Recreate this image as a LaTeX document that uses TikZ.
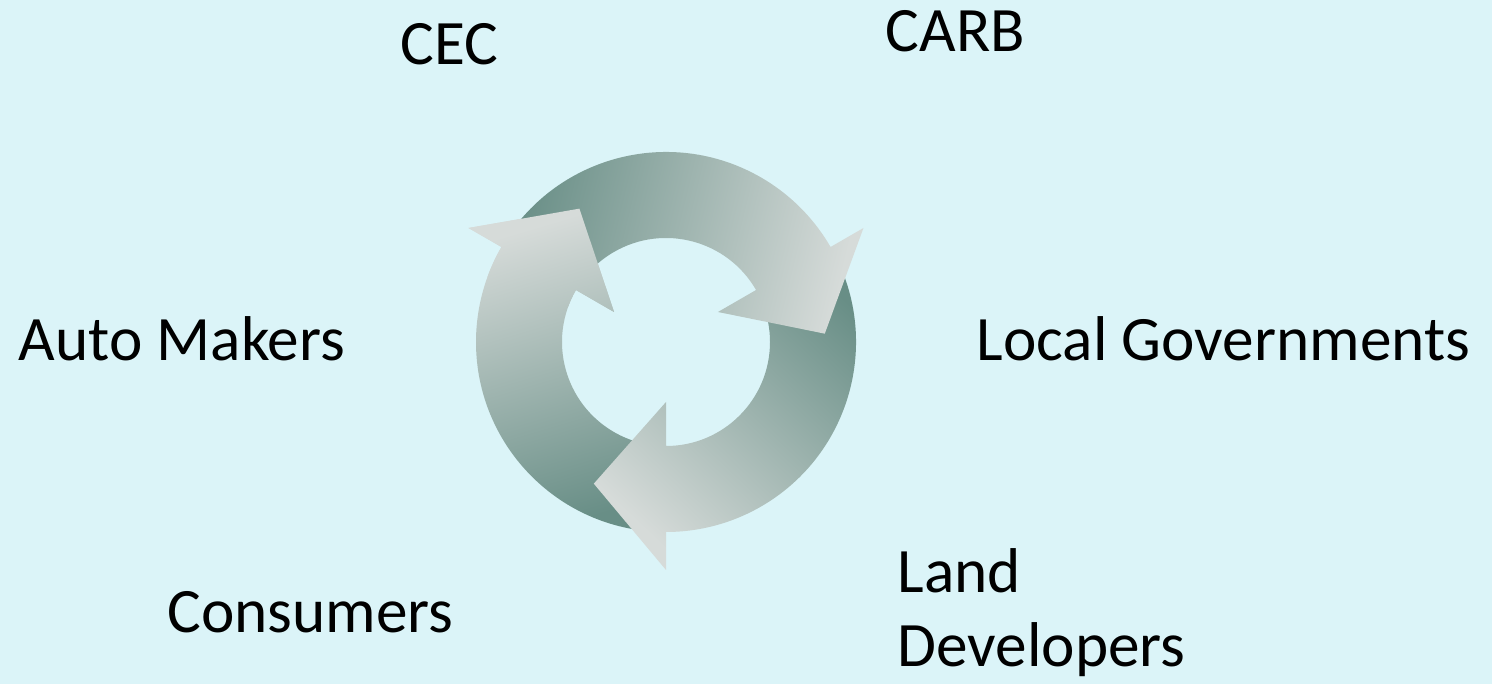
\documentclass[tikz,border=0pt]{standalone}
\usepackage{fontspec}
\setmainfont{Carlito}

\definecolor{bgcyan}{RGB}{219,244,248}
\definecolor{ringdark}{RGB}{104,142,134}
\definecolor{ringlight}{RGB}{214,219,217}

\begin{document}
\begin{tikzpicture}[
  actor/.style={inner sep=0pt, anchor=base west, align=left, font=\fontsize{18}{21.3}\selectfont},
  ringarrow/.style={left color=ringdark, right color=ringlight}]
 \fill[bgcyan] (0,0) rectangle (14.92,6.84);
 \begin{scope}[shift={(6.66,3.42)}]
  % left arrow, goes up the left side
  \shade[ringarrow,shading angle=196.5] (270:1.9) arc[start angle=270,end angle=150,radius=1.9] -- (150:2.28) -- (123:1.59) -- (150:0.6) -- (150:1.04) arc[start angle=150,end angle=270,radius=1.04] -- cycle;
  % bottom arrow
  \shade[ringarrow,shading angle=-43.5] (30:1.9) arc[start angle=30,end angle=-90,radius=1.9] -- (-90:2.28) -- (-117:1.59) -- (-90:0.6) -- (-90:1.04) arc[start angle=-90,end angle=30,radius=1.04] -- cycle;
  % top arrow
  \shade[ringarrow,shading angle=76.5] (150:1.9) arc[start angle=150,end angle=30,radius=1.9] -- (30:2.28) -- (3:1.59) -- (30:0.6) -- (30:1.04) arc[start angle=30,end angle=150,radius=1.04] -- cycle;
  % head of the left arrow again, over the tail of the top one
  \begin{scope}
   \clip (160:2.4) -- (150:2.4) -- (123:1.59) -- (150:0.5) -- (160:0.5) -- cycle;
   \shade[ringarrow,shading angle=196.5] (270:1.9) arc[start angle=270,end angle=150,radius=1.9] -- (150:2.28) -- (123:1.59) -- (150:0.6) -- (150:1.04) arc[start angle=150,end angle=270,radius=1.04] -- cycle;
  \end{scope}
 \end{scope}
 \node[actor] (cec) at (4.0,6.19) {CEC};
 \node[actor] (carb) at (8.85,6.32) {CARB};
 \node[actor] (automk) at (0.18,3.23) {Auto Makers};
 \node[actor] (locgov) at (9.76,3.23) {Local Governments};
 \node[actor] (consum) at (1.67,0.51) {Consumers};
 \node[actor] (landdev) at (8.97,0.17) {Land\\Developers};
\end{tikzpicture}
\end{document}
